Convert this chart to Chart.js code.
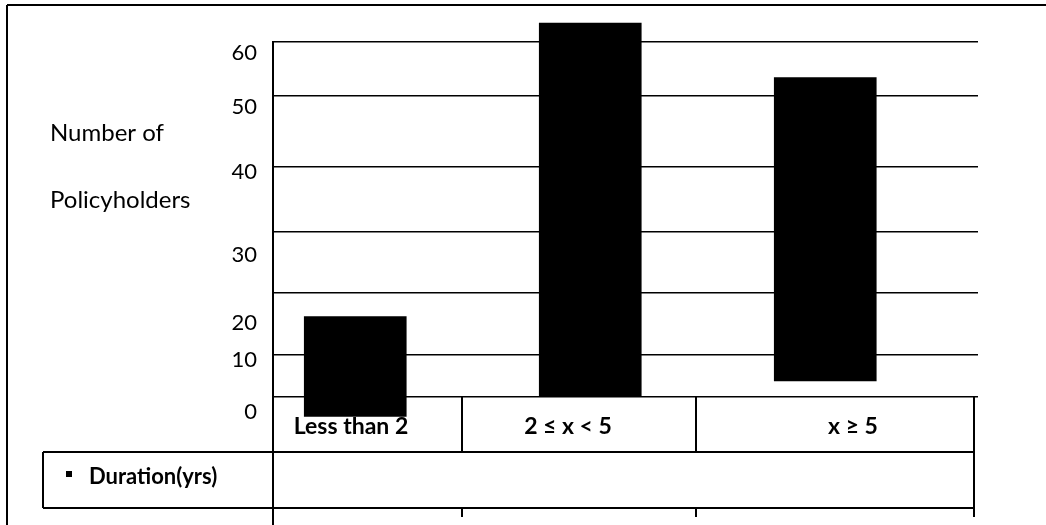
<!DOCTYPE html>
<html><head><meta charset="utf-8">
<script src="https://cdn.jsdelivr.net/npm/chart.js@4/dist/chart.umd.min.js"></script>
<style>html,body{margin:0;padding:0;background:#fff;overflow:hidden}</style>
</head><body><canvas id="c" width="1046" height="525"></canvas>
<script>
// ---- data (y in axis units: 0 = bottom gridline, 60 = top border) ----
const categories = ['Less than 2', '2 \u2264 x < 5', 'x \u2265 5'];
const barLow = [-3.3, 0.2, 2.7];
const barHigh = [13.6, 63.2, 54.0];
const seriesName = 'Duration(yrs)';
const yTickLabels = ['60', '50', '40', '30', '20', '10', '0'];
const yTickValues = [58.1, 49.0, 38.0, 24.0, 12.5, 6.3, -2.5];
const gridValues = [60, 50.9, 38.9, 27.9, 17.7, 7.1, 0];
const yTitleLines = ['Number of', 'Policyholders'];

const FONT = 'Lato, "Open Sans", sans-serif';

const tablePlugin = {
  id: 'tablePlugin',
  afterDraw(chart) {
    const ctx = chart.ctx;
    const a = chart.chartArea;
    ctx.save();
    ctx.strokeStyle = '#000';
    ctx.lineWidth = 2;
    const line = (x1, y1, x2, y2) => { ctx.beginPath(); ctx.moveTo(x1, y1); ctx.lineTo(x2, y2); ctx.stroke(); };
    // outer frame
    line(7, 525, 7, 5); line(7, 5, 1046, 5);
    // axis continuation
    line(a.left, a.bottom, a.left, 525);
    // category / legend table
    const rowTop = a.bottom, rowMid = 452, rowBot = 508, tickEnd = 517;
    const div1 = 462, div2 = 696, rEdge = 974, legL = 43;
    line(legL, rowMid, rEdge, rowMid);
    line(legL, rowBot, rEdge, rowBot);
    line(legL, rowMid, legL, rowBot);
    line(div1, rowTop, div1, rowMid); line(div1, rowBot, div1, tickEnd);
    line(div2, rowTop, div2, rowMid); line(div2, rowBot, div2, tickEnd);
    line(rEdge, rowTop, rEdge, tickEnd);
    // category labels
    ctx.fillStyle = '#000';
    ctx.font = 'bold 23px ' + FONT;
    ctx.textAlign = 'center'; ctx.textBaseline = 'middle';
    const labelX = [351, 568, 853];
    categories.forEach((c, i) => ctx.fillText(c, labelX[i], 427));
    // legend
    ctx.fillRect(66, 471, 6, 6);
    ctx.font = 'bold 22px ' + FONT;
    ctx.textAlign = 'left';
    ctx.fillText(seriesName, 89, 477);
    // y title
    ctx.font = '24px ' + FONT;
    ctx.fillText(yTitleLines[0], 50, 133);
    ctx.fillText(yTitleLines[1], 50, 200);
    ctx.restore();
  }
};

new Chart(document.getElementById('c'), {
  type: 'bar',
  data: {
    datasets: [{
      label: seriesName,
      data: categories.map((c, i) => ({ x: i, y: [barLow[i], barHigh[i]] })),
      backgroundColor: '#000',
      borderWidth: 0,
      barThickness: 102,
      clip: false
    }]
  },
  options: {
    responsive: false,
    animation: false,
    devicePixelRatio: 1,
    layout: { padding: { left: 0, top: 42, right: 68, bottom: 128 } },
    plugins: { legend: { display: false }, tooltip: { enabled: false } },
    scales: {
      x: { type: 'linear', display: false, offset: false, min: -0.35, max: 2.65 },
      y: {
        type: 'linear', position: 'left', min: 0, max: 60,
        afterBuildTicks: s => { s.ticks = yTickValues.map(v => ({ value: v })); },
        afterFit: s => { s.width = 273; },
        ticks: { autoSkip: false, color: '#000', font: { family: FONT, size: 22 }, padding: 16,
                 callback: (v, i) => yTickLabels[i] },
        grid: { display: false, drawTicks: false },
        border: { display: true, color: '#000', width: 2 }
      },
      yg: {
        type: 'linear', position: 'left', min: 0, max: 60,
        afterBuildTicks: s => { s.ticks = gridValues.map(v => ({ value: v })); },
        ticks: { display: false },
        grid: { color: '#000', lineWidth: 1.5, drawTicks: false },
        border: { display: false }
      }
    }
  },
  plugins: [tablePlugin]
});
</script>
</body></html>
